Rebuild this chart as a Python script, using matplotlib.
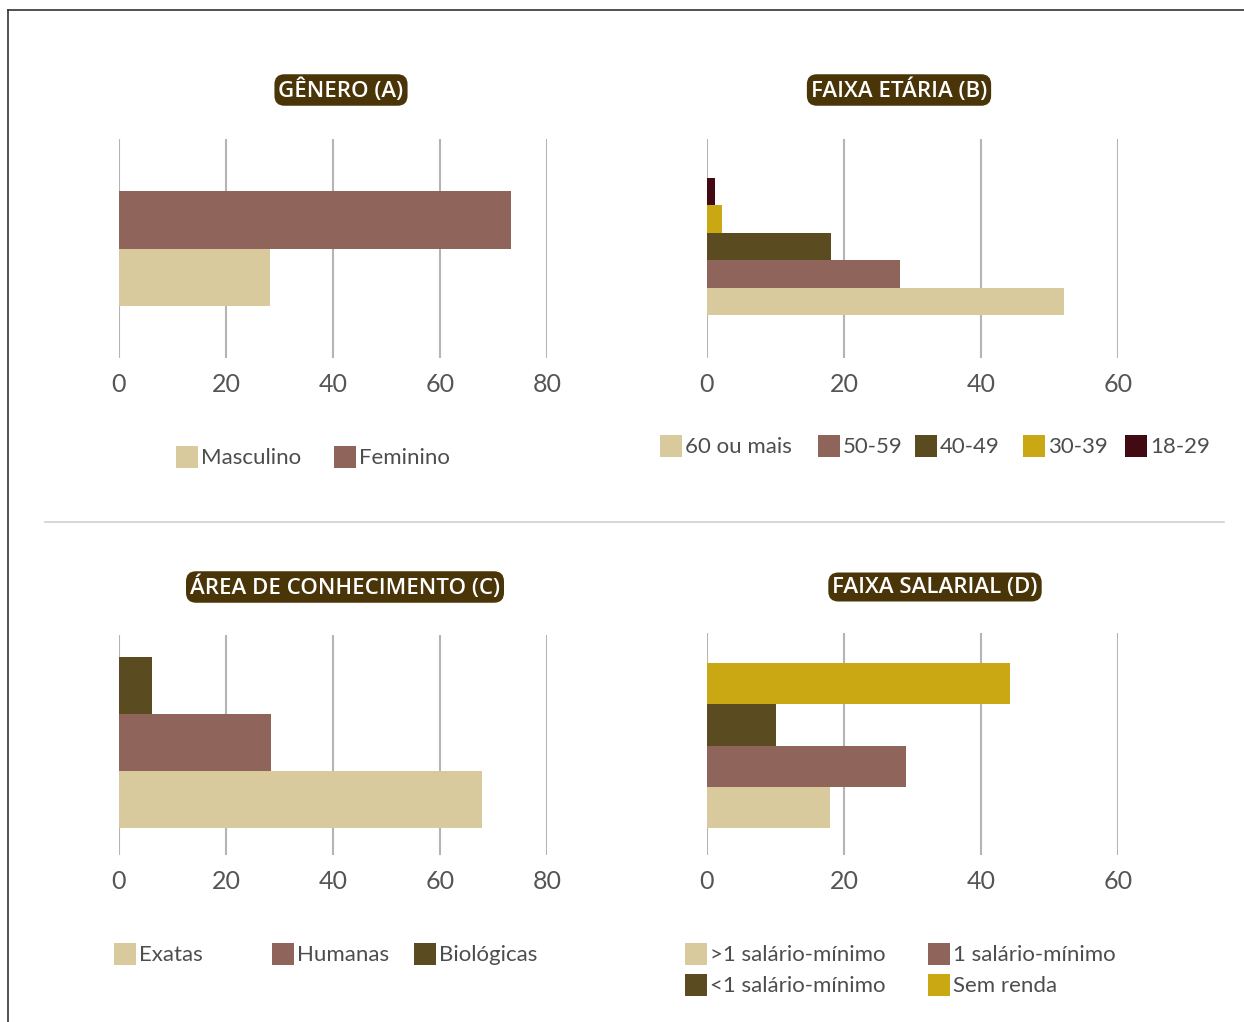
import matplotlib.pyplot as plt
from matplotlib.patches import Rectangle
from matplotlib.lines import Line2D

# ---- data ----
genero_labels = ["Masculino", "Feminino"]
genero_values = [28.2, 73.3]

idade_labels = ["60 ou mais", "50-59", "40-49", "30-39", "18-29"]
idade_values = [52.1, 28.2, 18.1, 2.2, 1.2]

area_labels = ["Exatas", "Humanas", "Biológicas"]
area_values = [67.8, 28.4, 6.1]

salario_labels = [">1 salário-mínimo", "1 salário-mínimo", "<1 salário-mínimo", "Sem renda"]
salario_values = [18.0, 29.1, 10.0, 44.3]

ticks_ac = [0, 20, 40, 60, 80]
ticks_bd = [0, 20, 40, 60]

# ---- style ----
BEIGE = "#d8ca9d"
ROSE = "#8f645a"
OLIVE = "#5a4c20"
GOLD = "#c9a813"
MAROON = "#420b14"
TITLE_BG = "#4a3509"
GRID = "#b4b4b4"
TXT = "#4d4d4d"

W, H = 1244, 1022
fig = plt.figure(figsize=(W / 100, H / 100), dpi=100)
fig.patch.set_facecolor("white")


def fx(px):
    return px / W


def fy(py):
    return 1 - py / H


def panel(left, right, top, bottom, values, colors, ticks, cluster, center=0.5):
    ax = fig.add_axes([fx(left), fy(bottom), fx(right - left), (bottom - top) / H])
    n = len(values)
    h = cluster / n
    start = center - cluster / 2 + h / 2
    pos = [start + i * h for i in range(n)]
    ax.barh(pos, values, height=h, color=colors, zorder=3)
    ax.set_xlim(0, ticks[-1])
    ax.set_ylim(0, 1)
    ax.set_xticks(ticks)
    ax.set_xticklabels([str(t) for t in ticks], family="Lato", fontsize=18,
                       color="#555555")
    ax.set_yticks([])
    ax.tick_params(axis="x", length=0, pad=11)
    ax.grid(axis="x", color=GRID, linewidth=1.5, zorder=0)
    for s in ax.spines.values():
        s.set_visible(False)
    ax.set_facecolor("none")
    return ax


def title(cx, cy, text):
    fig.text(fx(cx), fy(cy), text, ha="center", va="center", color="white",
             family="Open Sans", fontweight="semibold", fontsize=16,
             bbox=dict(boxstyle="round,pad=0.18,rounding_size=0.45",
                       facecolor=TITLE_BG, edgecolor="none"))


def legend_item(x, y, color, label):
    size = 22
    fig.add_artist(Rectangle((fx(x), fy(y + size / 2)), size / W, size / H,
                             transform=fig.transFigure, facecolor=color,
                             edgecolor="none"))
    fig.text(fx(x + size + 3), fy(y + 1), label, ha="left", va="center",
             family="Lato", fontsize=16, color=TXT)


# outer frame and separator
fig.add_artist(Line2D([fx(8), fx(8)], [fy(10), fy(1022)], color="#333333",
                      linewidth=1.2, transform=fig.transFigure))
fig.add_artist(Line2D([fx(8), fx(1244)], [fy(10), fy(10)], color="#333333",
                      linewidth=1.2, transform=fig.transFigure))
fig.add_artist(Line2D([fx(45), fx(1224)], [fy(522), fy(522)], color="#cfcfcf",
                      linewidth=1.2, transform=fig.transFigure))

# (A) gender
panel(119, 547, 139, 358, genero_values, [BEIGE, ROSE], ticks_ac, 0.525)
title(341, 90, "GÊNERO (A)")
legend_item(176, 457, BEIGE, genero_labels[0])
legend_item(334, 457, ROSE, genero_labels[1])

# (B) age range
panel(707, 1118, 139, 358, idade_values, [BEIGE, ROSE, OLIVE, GOLD, MAROON],
      ticks_bd, 0.626, center=0.509)
title(899, 90, "FAIXA ETÁRIA (B)")
for x, c, lab in zip([660, 818, 915, 1023, 1125],
                     [BEIGE, ROSE, OLIVE, GOLD, MAROON], idade_labels):
    legend_item(x, 446, c, lab)

# (C) field of knowledge
panel(119, 547, 635, 855, area_values, [BEIGE, ROSE, OLIVE], ticks_ac, 0.777,
      center=0.511)
title(345, 587, "ÁREA DE CONHECIMENTO (C)")
for x, c, lab in zip([114, 272, 414], [BEIGE, ROSE, OLIVE], area_labels):
    legend_item(x, 954, c, lab)

# (D) income range
panel(707, 1118, 633, 855, salario_values, [BEIGE, ROSE, OLIVE, GOLD],
      ticks_bd, 0.743, center=0.493)
title(935, 587, "FAIXA SALARIAL (D)")
for (x, y), c, lab in zip([(685, 954), (928, 954), (685, 985), (928, 985)],
                          [BEIGE, ROSE, OLIVE, GOLD], salario_labels):
    legend_item(x, y, c, lab)

fig.savefig("out.png", dpi=100)
